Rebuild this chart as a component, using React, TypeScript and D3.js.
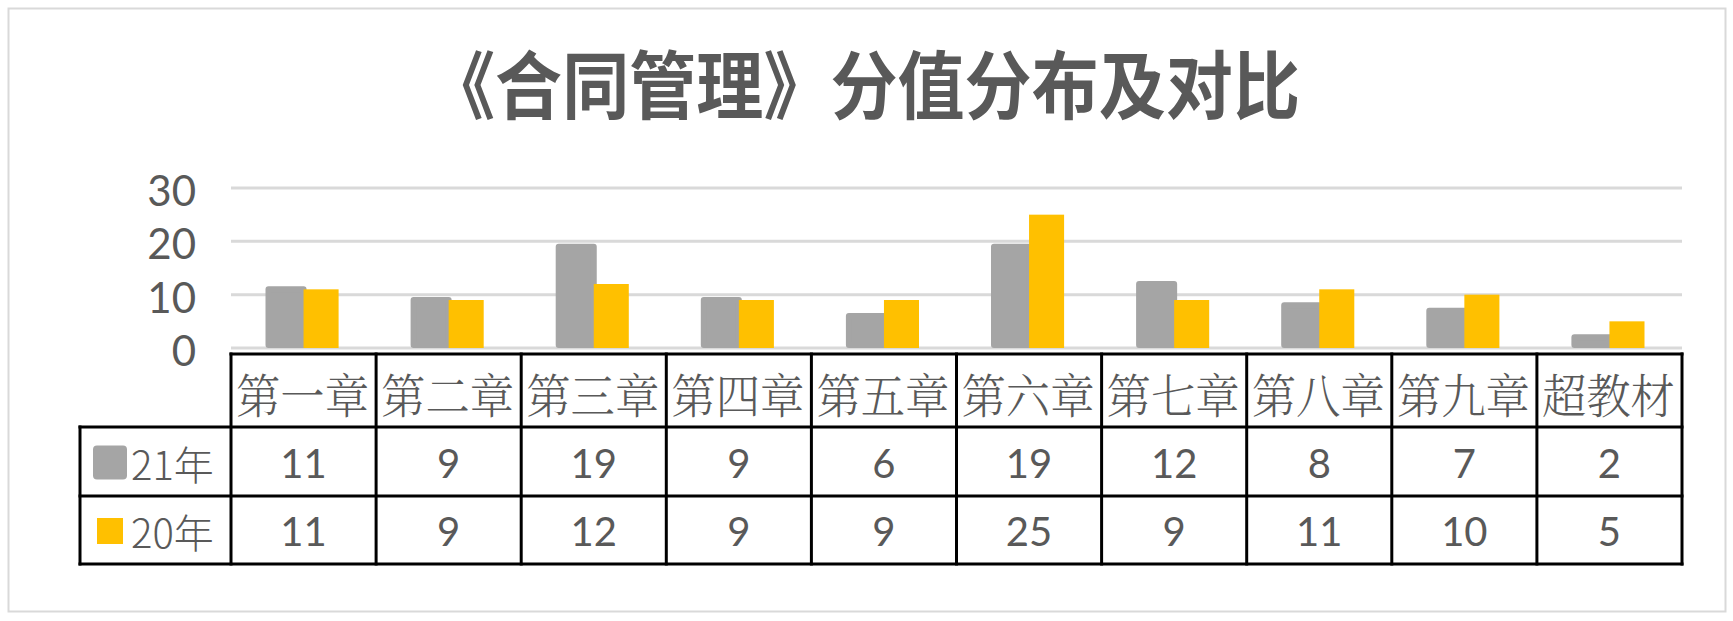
/* eslint-disable */
import React, { useEffect, useRef } from 'react';
import * as d3 from 'd3';

// ------- Data -------
const chapters = ['第一章', '第二章', '第三章', '第四章', '第五章', '第六章', '第七章', '第八章', '第九章', '超教材'];
const series = ['21年', '20年'];
const scores21 = [11, 9, 19, 9, 6, 19, 12, 8, 7, 2];
const scores20 = [11, 9, 12, 9, 9, 25, 9, 11, 10, 5];
const yTicks = [0, 10, 20, 30];
const title = '《合同管理》分值分布及对比';

const colors = ['#a5a5a5', '#ffc000'];

const App = () => {
  const ref = useRef<SVGSVGElement>(null);

  useEffect(() => {
    if (!ref.current) return;
    const svg = d3.select(ref.current);
    svg.selectAll('*').remove();

    const width = 1733;
    const height = 621;
    svg.attr('width', width).attr('height', height).attr('viewBox', `0 0 ${width} ${height}`);

    const plot = { left: 231, right: 1682, top: 188, bottom: 348 };
    const table = { legendLeft: 80, top: 354, rows: [427, 496, 564] };
    const textColor = '#595959';
    const numFont = 'Lato, "Open Sans", sans-serif';
    const cjkFont = '"Noto Serif CJK SC", "Noto Sans CJK SC", serif';

    // background + frame
    svg.append('rect').attr('width', width).attr('height', height).attr('fill', '#fff');
    svg.append('rect')
      .attr('x', 8.5).attr('y', 8.5)
      .attr('width', 1717).attr('height', 603)
      .attr('fill', '#fff')
      .attr('stroke', '#d9d9d9')
      .attr('stroke-width', 2);

    // ------- Title -------
    svg.append('text')
      .attr('x', 428)
      .attr('y', 80)
      .attr('dominant-baseline', 'central')
      .attr('textLength', 872)
      .attr('lengthAdjust', 'spacingAndGlyphs')
      .attr('font-family', '"Noto Sans CJK SC", sans-serif')
      .attr('font-weight', 700)
      .attr('font-size', 74)
      .attr('fill', textColor)
      .text(title);

    // ------- Scales -------
    const x = d3.scaleBand<string>().domain(chapters).range([plot.left, plot.right]).paddingInner(0).paddingOuter(0);
    const xs = d3.scaleBand<string>().domain(series).range([0, x.bandwidth()]).paddingInner(0).paddingOuter(1.07);
    const y = d3.scaleLinear().domain([0, 30]).range([plot.bottom, plot.top]);

    // ------- Gridlines & y labels -------
    svg.append('g')
      .selectAll('line')
      .data(yTicks)
      .enter()
      .append('line')
      .attr('x1', plot.left)
      .attr('x2', plot.right)
      .attr('y1', (d) => y(d))
      .attr('y2', (d) => y(d))
      .attr('stroke', '#d9d9d9')
      .attr('stroke-width', 3);

    svg.append('g')
      .selectAll('text')
      .data(yTicks)
      .enter()
      .append('text')
      .attr('x', 196)
      .attr('y', (d) => y(d) + 2)
      .attr('text-anchor', 'end')
      .attr('dominant-baseline', 'central')
      .attr('font-family', numFont)
      .attr('font-size', 42)
      .attr('fill', textColor)
      .text((d) => d);

    // ------- Bars -------
    const values = [scores21, scores20];
    series.forEach((s, si) => {
      const g = svg.append('g');
      const bars = g.selectAll('rect')
        .data(chapters.map((c, i) => ({ c, v: values[si][i] })))
        .enter()
        .append('rect')
        .attr('x', (d) => x(d.c)! + xs(s)!)
        .attr('y', (d) => y(d.v))
        .attr('width', xs.bandwidth())
        .attr('height', (d) => y(0) - y(d.v))
        .attr('fill', colors[si]);
      if (si === 0) {
        bars
          .attr('stroke', colors[si])
          .attr('stroke-width', 6)
          .attr('stroke-linejoin', 'round')
          .attr('height', (d) => y(0) - y(d.v) - 3);
      }
    });

    // ------- Data table -------
    const lines = svg.append('g').attr('stroke', '#000').attr('stroke-width', 3).attr('stroke-linecap', 'square');
    // header top
    lines.append('line').attr('x1', plot.left).attr('x2', plot.right).attr('y1', table.top).attr('y2', table.top);
    // row lines
    table.rows.forEach((ry) => {
      lines.append('line').attr('x1', table.legendLeft).attr('x2', plot.right).attr('y1', ry).attr('y2', ry);
    });
    // verticals
    const bounds = chapters.map((c) => x(c)!).concat([plot.right]);
    lines.selectAll('line.v')
      .data(bounds)
      .enter()
      .append('line')
      .attr('class', 'v')
      .attr('x1', (d) => d)
      .attr('x2', (d) => d)
      .attr('y1', table.top)
      .attr('y2', table.rows[2]);
    lines.append('line')
      .attr('x1', table.legendLeft).attr('x2', table.legendLeft)
      .attr('y1', table.rows[0]).attr('y2', table.rows[2]);

    // header labels
    svg.append('g')
      .selectAll('text')
      .data(chapters)
      .enter()
      .append('text')
      .attr('x', (d) => x(d)! + 5)
      .attr('y', (table.top + table.rows[0]) / 2 + 2)
      .attr('dominant-baseline', 'central')
      .attr('textLength', x.bandwidth() - 12)
      .attr('lengthAdjust', 'spacingAndGlyphs')
      .attr('font-family', cjkFont)
      .attr('font-weight', 300)
      .attr('font-size', 47)
      .attr('fill', textColor)
      .text((d) => d);

    // value rows
    series.forEach((s, si) => {
      const top = table.rows[si];
      const bottom = table.rows[si + 1];
      const cy = (top + bottom) / 2 + 1;
      svg.append('g')
        .selectAll('text')
        .data(values[si])
        .enter()
        .append('text')
        .attr('x', (d, i) => x(chapters[i])! + x.bandwidth() / 2)
        .attr('y', cy)
        .attr('text-anchor', 'middle')
        .attr('dominant-baseline', 'central')
        .attr('font-family', numFont)
        .attr('font-size', 40)
        .attr('fill', textColor)
        .text((d) => d);

      // legend key
      const key = svg.append('rect')
        .attr('x', 97)
        .attr('y', cy - 13)
        .attr('width', 26)
        .attr('height', 26)
        .attr('fill', colors[si]);
      if (si === 0) {
        key.attr('stroke', colors[si]).attr('stroke-width', 8).attr('stroke-linejoin', 'round');
      }
      svg.append('text')
        .attr('x', 131)
        .attr('y', cy)
        .attr('dominant-baseline', 'central')
        .attr('font-family', '"Noto Sans CJK SC", sans-serif')
        .attr('font-weight', 300)
        .attr('font-size', 40)
        .attr('fill', textColor)
        .text(s);
    });
  }, []);

  return <svg ref={ref} style={{ position: 'absolute', left: 0, top: 0, display: 'block' }} />;
};

export default App;
